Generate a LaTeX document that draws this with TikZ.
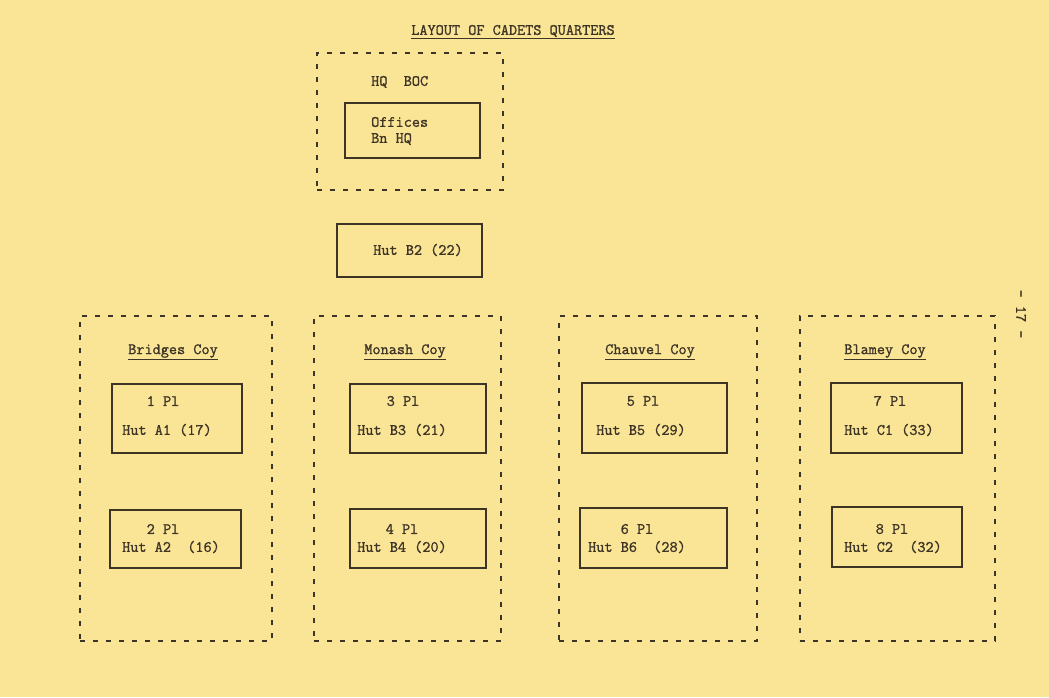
\documentclass[tikz,border=0pt]{standalone}
\usepackage{fontspec}
\newfontfamily\tw{Latin Modern Mono}[FakeBold=1.2]
\usetikzlibrary{fit}
\definecolor{paper}{RGB}{250,229,150}
\definecolor{ink}{RGB}{62,52,38}
\tikzset{
  txt/.style={font=\tw\fontsize{15.8}{18}\selectfont, text=ink, inner sep=0pt},
  dashbox/.style={draw=ink, line width=1.3pt, dash pattern=on 5pt off 8pt, inner sep=0pt},
  hutbox/.style={draw=ink, line width=1.6pt, inner sep=0pt},
}
\newcommand{\ul}[1]{\underline{#1}}
\begin{document}
\begin{tikzpicture}[x=1pt,y=-1pt]
\fill[paper] (0,0) rectangle (1049,697);
\useasboundingbox (0,0) rectangle (1049,697);

% title
\node[txt] (title) at (513,32) {\ul{LAYOUT OF CADETS QUARTERS}};

% HQ
\node[dashbox, fit={(317,53) (503,190)}] (hq) {};
\node[txt, anchor=west] (hqboc) at (371,82) {HQ\ \ BOC};
\node[hutbox, fit={(345,103) (480,158)}] (offices) {};
\node[txt, anchor=west] (off1) at (371,122) {Offices};
\node[txt, anchor=west] (off2) at (371,139) {Bn HQ};

% Hut B2
\node[hutbox, fit={(337,224) (482,277)}] (b2) {};
\node[txt] (b2t) at (418,250) {Hut B2 (22)};

% Companies
\node[dashbox, fit={(80,316) (272,641)}] (bridges) {};
\node[dashbox, fit={(314,316) (501,641)}] (monash) {};
\node[dashbox, fit={(559,316) (757,641)}] (chauvel) {};
\node[dashbox, fit={(800,316) (995,641)}] (blamey) {};

\node[txt] (bridgest) at (173,352) {\ul{Bridges Coy}};
\node[txt] (monasht) at (405,352) {\ul{Monash Coy}};
\node[txt] (chauvelt) at (650,352) {\ul{Chauvel Coy}};
\node[txt] (blameyt) at (885,352) {\ul{Blamey Coy}};

% huts row 1
\node[hutbox, fit={(112,384) (242,453)}] (p1) {};
\node[hutbox, fit={(350,384) (486,453)}] (p3) {};
\node[hutbox, fit={(582,383) (727,453)}] (p5) {};
\node[hutbox, fit={(831,383) (962,453)}] (p7) {};
% huts row 2
\node[hutbox, fit={(110,510) (241,568)}] (p2) {};
\node[hutbox, fit={(350,509) (486,568)}] (p4) {};
\node[hutbox, fit={(580,508) (727,568)}] (p6) {};
\node[hutbox, fit={(832,507) (962,567)}] (p8) {};

% hut texts
\node[txt] (p1a) at (163,401) {1 Pl};
\node[txt] (p1b) at (167,430) {Hut A1 (17)};
\node[txt] (p2a) at (163,529) {2 Pl};
\node[txt] (p2b) at (171,547) {Hut A2\ \ (16)};

\node[txt] (p3a) at (403,401) {3 Pl};
\node[txt] (p3b) at (402,430) {Hut B3 (21)};
\node[txt] (p4a) at (402,529) {4 Pl};
\node[txt] (p4b) at (402,547) {Hut B4 (20)};

\node[txt] (p5a) at (643,401) {5 Pl};
\node[txt] (p5b) at (641,430) {Hut B5 (29)};
\node[txt] (p6a) at (637,529) {6 Pl};
\node[txt] (p6b) at (637,547) {Hut B6\ \ (28)};

\node[txt] (p7a) at (890,401) {7 Pl};
\node[txt] (p7b) at (889,430) {Hut C1 (33)};
\node[txt] (p8a) at (892,529) {8 Pl};
\node[txt] (p8b) at (893,547) {Hut C2\ \ (32)};

% page number
\node[txt, rotate=-90] (pagenum) at (1021,314) {- 17 -};
\end{tikzpicture}
\end{document}
